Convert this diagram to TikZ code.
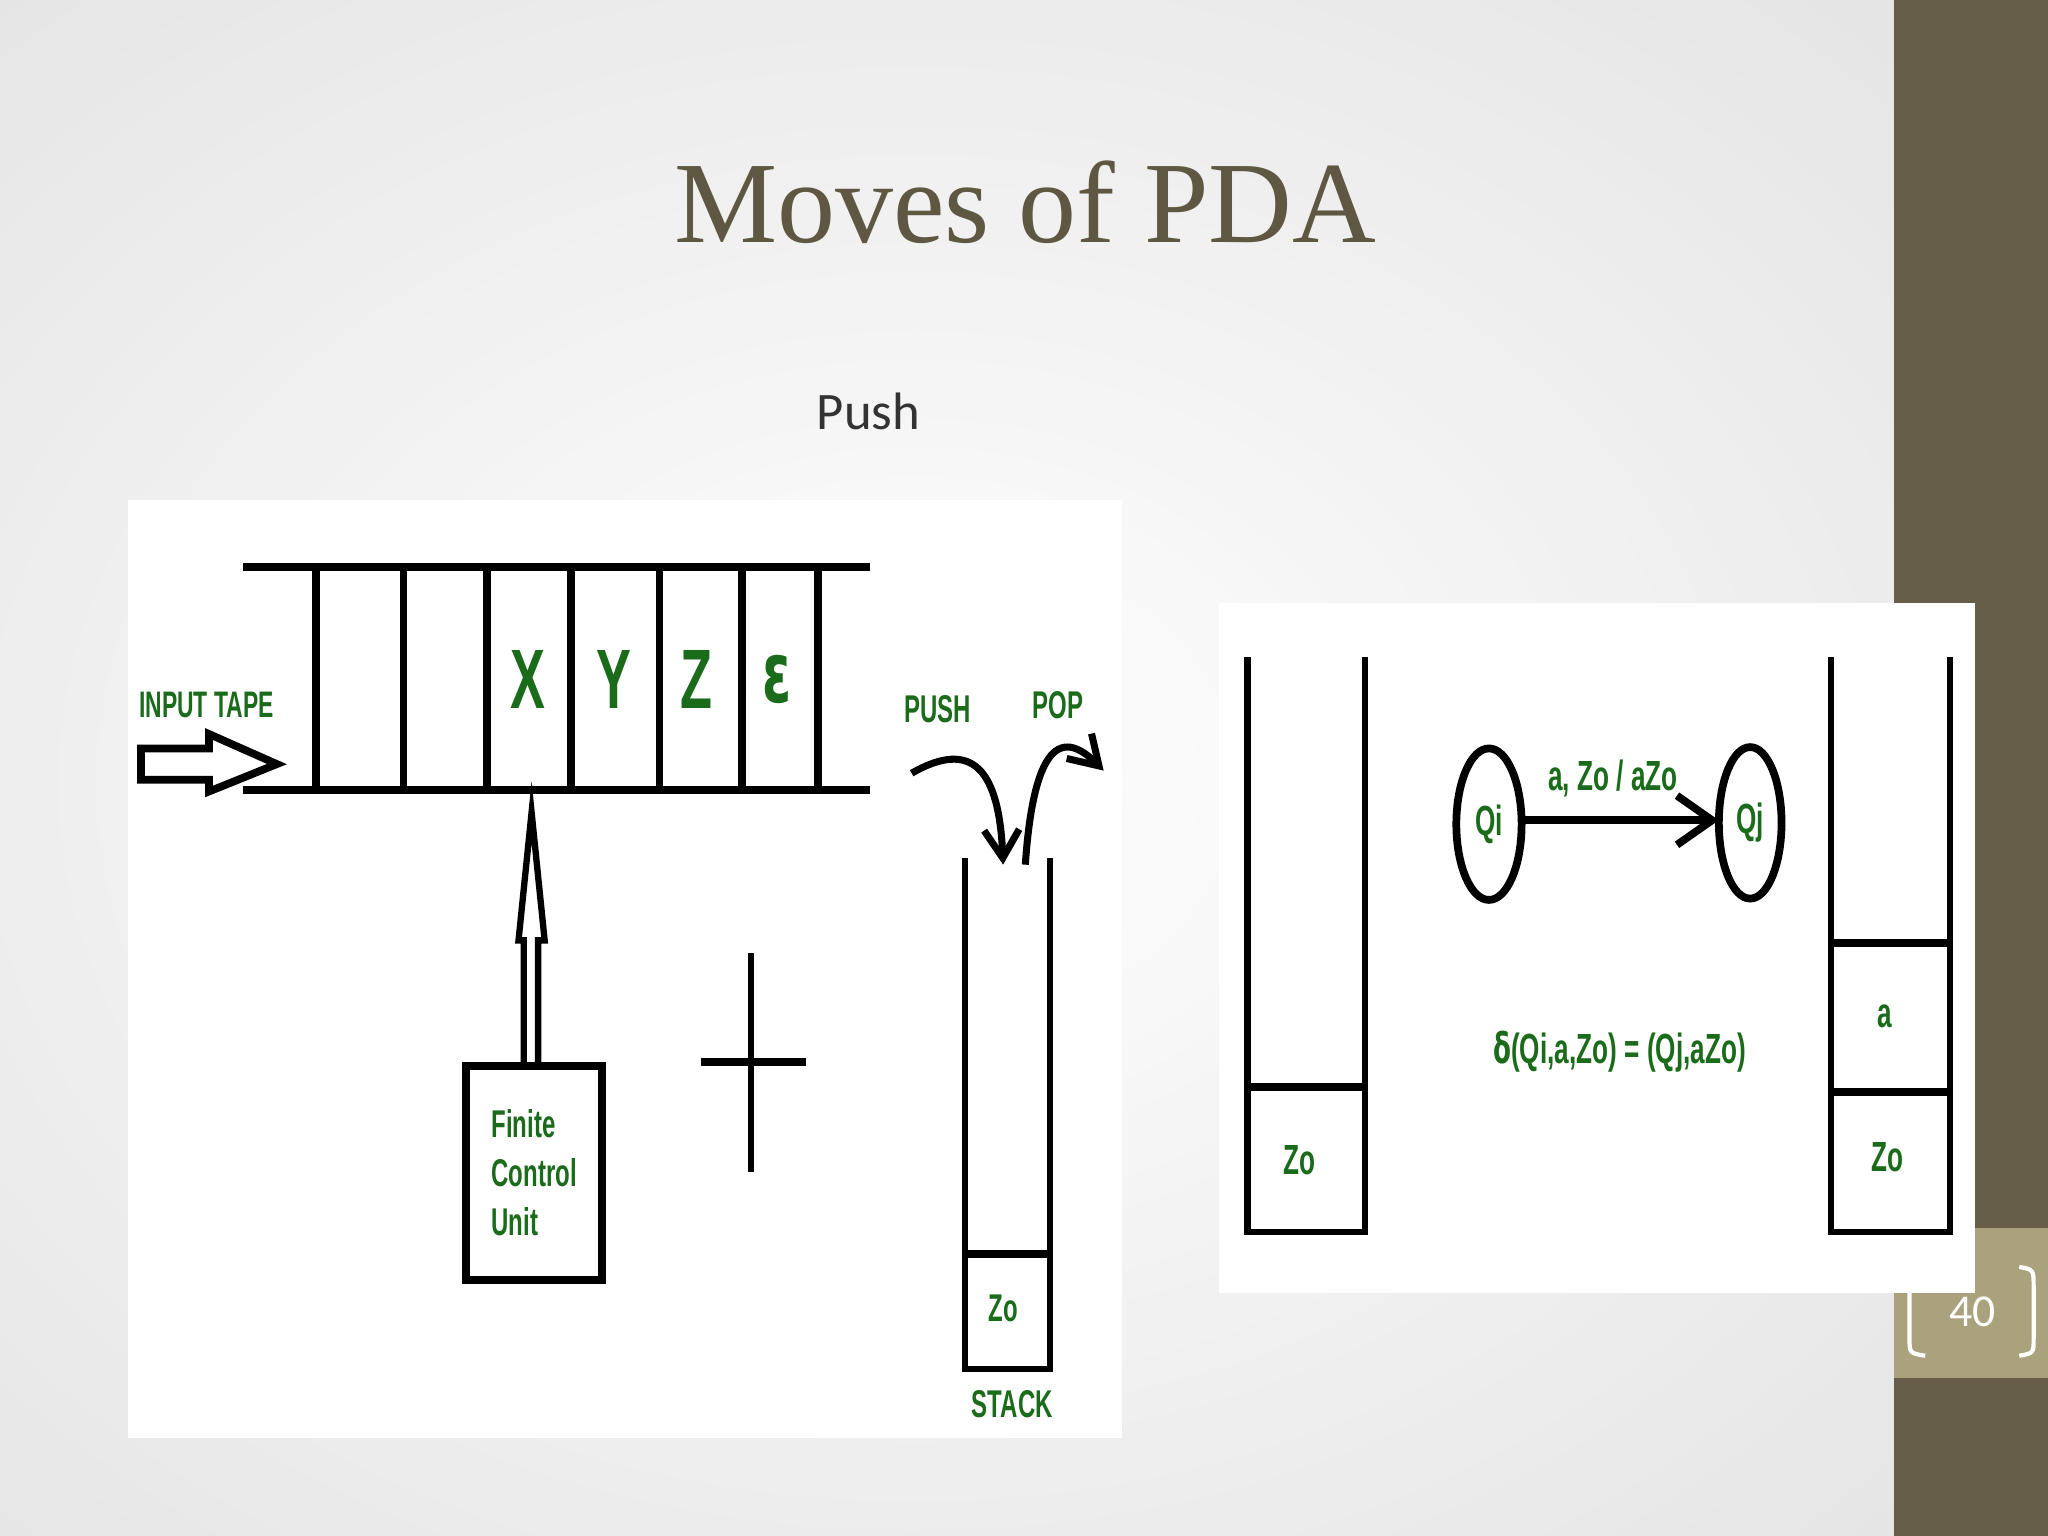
\documentclass[tikz,border=0pt]{standalone}
\usepackage{fontspec}
\setmainfont{Liberation Serif}
\newfontfamily\carl{Carlito}
\newfontfamily\gsans{Liberation Sans}
\usetikzlibrary{arrows.meta}
\definecolor{olive}{HTML}{665E48}
\definecolor{tan}{HTML}{A9A27D}
\definecolor{ttl}{HTML}{5E5843}
\definecolor{gr}{HTML}{1A6B1A}
\tikzset{
 bl/.style={line width=2.2pt},
 gt/.style={text=gr,font=\gsans\bfseries\fontsize{#1}{#1}\selectfont,xscale=0.62,transform shape,inner sep=0},
 gt/.default=11
}
\begin{document}
\begin{tikzpicture}[x=0.013061cm,y=-0.013061cm]
\useasboundingbox (0,0) rectangle (1568,1176);
\shade[inner color=white,outer color=gray!35] (-600,-400) rectangle (2000,1600);
\fill[white,opacity=0.3] (0,0) rectangle (1450,1176);
\fill[olive] (1450,0) rectangle (1568,1176);
\fill[tan] (1450,940) rectangle (1568,1055);
\draw[white,line width=1.2pt] (1474,970) .. controls (1462,972) .. (1462,985) -- (1462,1025) .. controls (1462,1036) .. (1474,1038);
\draw[white,line width=1.2pt] (1546,970) .. controls (1557,972) .. (1557,985) -- (1557,1025) .. controls (1557,1036) .. (1546,1038);
\node[text=white,font=\carl\fontsize{13}{13}\selectfont] (pg) at (1510,1004) {40};
\node[text=ttl,font=\fontsize{33}{33}\selectfont] (title) at (785,155) {Moves of PDA};
\node[text=black!80,font=\carl\fontsize{15}{15}\selectfont] (push) at (665,315) {Push};
% left panel
\fill[white] (98,383) rectangle (859,1101);
\draw[bl] (186,434) -- (666,434);
\draw[bl] (186,605) -- (666,605);
\foreach \x in {242,309,373,437,505,568,626} \draw[bl] (\x,434) -- (\x,605);
\node[gt=24] (X) at (404,520) {X};
\node[gt=24] (Y) at (470,520) {Y};
\node[gt=24] (Z) at (533,520) {Z};
\node[gt=24] (E) at (595,520) {\fontspec{DejaVu Sans}\bfseries ε};
\node[gt=10.5] (it) at (158,540) {INPUT TAPE};
\draw[bl] (108,573)--(160,573)--(160,562)--(212,585)--(160,606)--(160,597)--(108,597)--cycle;
\draw[bl] (357,816) rectangle (461,980);
\node[gt=11,align=left,anchor=west] (fct) at (376,898) {Finite\\[3pt]Control\\[3pt]Unit};
\draw[line width=1.8pt] (401,815)--(401,720)--(397,720)--(407,622)--(417,720)--(412,720)--(412,815);
\draw[bl] (537,813) -- (617,813);
\draw[line width=1.8pt] (575,730) -- (575,897);
\draw[line width=1.8pt] (739,657) -- (739,1048) -- (804,1048) -- (804,657);
\draw[bl] (739,960) -- (804,960);
\node[gt=11] (zo1) at (768,1002) {Zo};
\node[gt=11] (st) at (775,1075) {STACK};
\node[gt=11] (pu) at (718,543) {PUSH};
\node[gt=11] (po) at (810,540) {POP};
\draw[line width=2pt,-{Straight Barb[length=8pt,width=10pt]}] (698,592) .. controls (745,565) and (765,590) .. (768,662);
\draw[line width=2pt,-{Straight Barb[length=8pt,width=10pt]}] (785,662) .. controls (790,590) and (805,550) .. (845,590);
% right panel
\fill[white] (933,462) rectangle (1512,990);
\draw[line width=1.8pt] (955,503) -- (955,943) -- (1045,943) -- (1045,503);
\draw[bl] (955,832) -- (1045,832);
\node[gt=12] (zo2) at (995,888) {Zo};
\draw[line width=1.8pt] (1402,503) -- (1402,943) -- (1493,943) -- (1493,503);
\draw[bl] (1402,722) -- (1493,722);
\draw[bl] (1402,836) -- (1493,836);
\node[gt=12] (a3) at (1443,778) {a};
\node[gt=12] (zo3) at (1445,886) {Zo};
\draw[bl] (1140,631) ellipse [x radius=25,y radius=58];
\draw[bl] (1340,630) ellipse [x radius=24,y radius=58];
\coordinate (qi) at (1165,628);
\coordinate (qj) at (1316,628);
\node[gt=12] (qit) at (1140,631) {Qi};
\node[gt=12] (qjt) at (1340,630) {Qj};
\draw[bl,-{Straight Barb[length=10pt,width=14pt]}] (qi) -- (qj);
\node[gt=12] (lab) at (1235,596) {a, Zo / aZo};
\node[gt=12] (del) at (1240,805) {\fontspec{DejaVu Sans}\bfseries δ\gsans\bfseries(Qi,a,Zo) = (Qj,aZo)};
\end{tikzpicture}
\end{document}
